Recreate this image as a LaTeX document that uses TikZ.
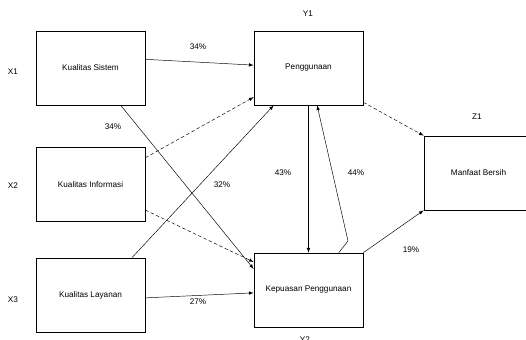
\documentclass[tikz,border=0pt]{standalone}
\usepackage{fontspec}
\setmainfont{Liberation Sans}
\begin{document}
\begin{tikzpicture}[x=0.03cm, y=-0.03cm, >=latex,
    kotak/.style={draw, semithick, minimum width=3.27cm, minimum height=2.22cm, inner sep=0pt, font=\fontsize{7}{8}\selectfont},
    teks/.style={font=\fontsize{7}{8}\selectfont},
    panah/.style={->, thin},
    putus/.style={->, thin, densely dashed}]

\useasboundingbox (0,0) rectangle (526,340);
\node [kotak] (ks) at (90.5,68){Kualitas Sistem};
\node [kotak] (ki) at (90.5,184.5){Kualitas Informasi};
\node [kotak] (kl) at (90.5,295){Kualitas Layanan};
\node [kotak] (peng) at (308.5,68){Penggunaan};
\node [kotak] (kep) at (308.5,290){Kepuasan Penggunaan};
\node [kotak] (mb) at (478.5,173){Manfaat Bersih};
\coordinate (tekuk) at (348,241);

\draw[panah] (ks.9.4) -- (peng.177.9);
\draw[panah] (ks.-51.4) -- (kep.159.8);
\draw[putus] (ki.26.8) -- (peng.-152);
\draw[putus] (ki.-25.9) -- (kep.153.6);
\draw[panah] (kl.42) -- (peng.-133);
\draw[panah] (kl.-3.2) -- (kep.183);
\draw[panah] (peng.south) -- (kep.north);
\draw[panah] (kep.51.4) -- (tekuk) -- (peng.-77);
\draw[putus] (peng.-32.7) -- (mb.north west);
\draw[panah] (kep.north east) -- (mb.south west);

\node [teks] (p1) at (198,47){34\%};
\node [teks] (p2) at (113,127){34\%};
\node [teks] (p3) at (222,185){32\%};
\node [teks] (p4) at (198,302){27\%};
\node [teks] (p5) at (283,173){43\%};
\node [teks] (p6) at (356,173){44\%};
\node [teks] (p7) at (411,250){19\%};
\node [teks] (x1) at (13,72){X1};
\node [teks] (x2) at (13,186){X2};
\node [teks] (x3) at (13,300){X3};
\node [teks] (y1) at (308,14){Y1};
\node [teks] (z1) at (477,117){Z1};
\node [teks] (y2) at (305,340){Y2};
\end{tikzpicture}
\end{document}
